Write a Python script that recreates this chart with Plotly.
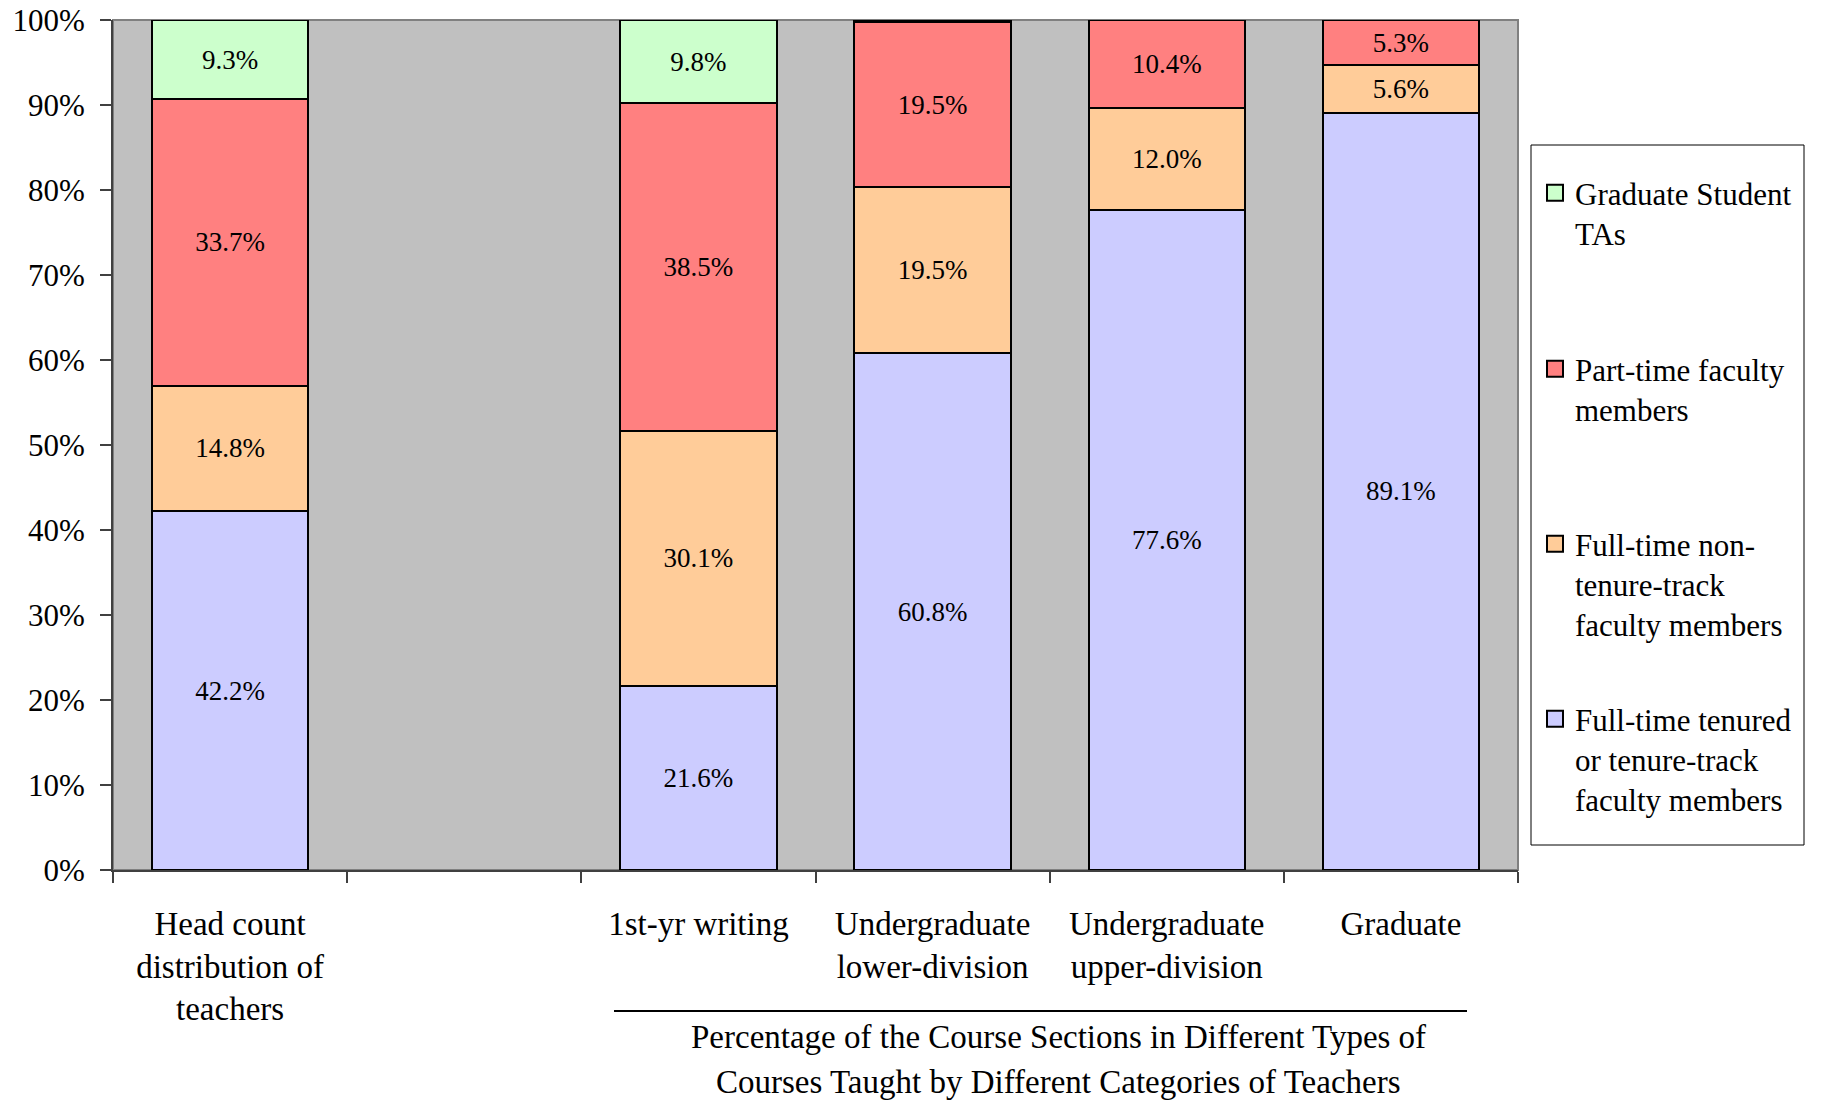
import plotly.graph_objects as go

categories = ["Head count<br>distribution of<br>teachers", " ", "1st-yr writing",
              "Undergraduate<br>lower-division", "Undergraduate<br>upper-division", "Graduate"]

tenured = [42.2, None, 21.6, 60.8, 77.6, 89.1]
non_tenure = [14.8, None, 30.1, 19.5, 12.0, 5.6]
part_time = [33.7, None, 38.5, 19.5, 10.4, 5.3]
grad_tas = [9.3, None, 9.8, 0.2, None, None]

tenured_lbl = ["42.2%", "", "21.6%", "60.8%", "77.6%", "89.1%"]
non_tenure_lbl = ["14.8%", "", "30.1%", "19.5%", "12.0%", "5.6%"]
part_time_lbl = ["33.7%", "", "38.5%", "19.5%", "10.4%", "5.3%"]
grad_tas_lbl = ["9.3%", "", "9.8%", "", "", ""]

group_title_lines = ["Percentage of the Course Sections in Different Types of",
                     "Courses Taught by Different Categories of Teachers"]

series = [
    ("Full-time tenured<br>or tenure-track<br>faculty members", tenured, tenured_lbl, "#CCCCFF", "legend4"),
    ("Full-time non-<br>tenure-track<br>faculty members", non_tenure, non_tenure_lbl, "#FFCC99", "legend3"),
    ("Part-time faculty<br>members", part_time, part_time_lbl, "#FF8080", "legend2"),
    ("Graduate Student<br>TAs", grad_tas, grad_tas_lbl, "#CCFFCC", "legend"),
]

FONT = "Liberation Serif"
fig = go.Figure()
for name, vals, lbls, color, lg in series:
    fig.add_trace(go.Bar(
        x=categories, y=vals, name=name, text=lbls,
        textposition="inside", insidetextanchor="middle", textangle=0,
        textfont=dict(family=FONT, size=27, color="black"),
        marker=dict(color=color, line=dict(color="black", width=2)),
        showlegend=False, hoverinfo="skip",
    ))
    # legend swatch (no data)
    fig.add_trace(go.Scatter(
        x=[None], y=[None], name=name, mode="markers",
        marker=dict(symbol="square", size=16, color=color, line=dict(color="black", width=2)),
        legend=lg, showlegend=True, hoverinfo="skip",
    ))

W, H = 1823, 1104
L, R, T, B = 113, 1518, 20, 870          # plot area in screen coords
pw, ph = R - L, B - T

def px(x):
    return (x - L) / pw

def py(y):
    return (B - y) / ph

legend_common = dict(xanchor="left", yanchor="top", valign="top",
                     bgcolor="rgba(0,0,0,0)", borderwidth=0, visible=True,
                     font=dict(family=FONT, size=31, color="black"))
fig.update_layout(
    width=W, height=H,
    margin=dict(l=L, r=W - R, t=T, b=H - B, pad=0, autoexpand=False),
    barmode="stack", bargap=0.333, showlegend=True,
    plot_bgcolor="#C0C0C0", paper_bgcolor="white",
    font=dict(family=FONT, size=30, color="black"),
    uniformtext=dict(minsize=26, mode="show"),
    legend=dict(x=px(1535), y=py(166), **legend_common),
    legend2=dict(x=px(1535), y=py(342), **legend_common),
    legend3=dict(x=px(1535), y=py(517), **legend_common),
    legend4=dict(x=px(1535), y=py(692), **legend_common),
)

fig.update_xaxes(
    type="category", tickson="boundaries", ticks="outside", ticklen=11,
    tickcolor="#404040", tickwidth=1.5, showline=True, linecolor="#404040", linewidth=2,
    showgrid=False, tickfont=dict(family=FONT, size=33, color="black"),
    ticklabelstandoff=23, automargin=False,
)
fig.update_yaxes(
    range=[0, 100], dtick=10, ticksuffix="%", ticks="outside", ticklen=11,
    tickcolor="#404040", tickwidth=1.5, showline=True, linecolor="#404040", linewidth=2,
    showgrid=False, zeroline=False, tickfont=dict(family=FONT, size=31, color="black"),
    ticklabelstandoff=9, automargin=False,
)

# plot area border (top/right)
fig.add_shape(type="rect", xref="paper", yref="paper", x0=0, x1=1, y0=0, y1=1,
              line=dict(color="#808080", width=2), layer="below")
# legend box
fig.add_shape(type="rect", xref="paper", yref="paper",
              x0=px(1531), x1=px(1804), y0=py(845), y1=py(145),
              line=dict(color="black", width=1), fillcolor="white", layer="below")
# group line under course types
fig.add_shape(type="line", xref="paper", yref="paper",
              x0=px(614), x1=px(1467), y0=py(1011), y1=py(1011),
              line=dict(color="black", width=2))
for line_text, ys in zip(group_title_lines, [1037, 1082]):
    fig.add_annotation(
        text=line_text, xref="paper", yref="paper", x=px(1058), y=py(ys),
        xanchor="center", yanchor="middle", showarrow=False,
        font=dict(family=FONT, size=33, color="black"),
    )

fig.write_html("out.html", config={"displayModeBar": False},
               post_script="document.body.style.margin='0';")
